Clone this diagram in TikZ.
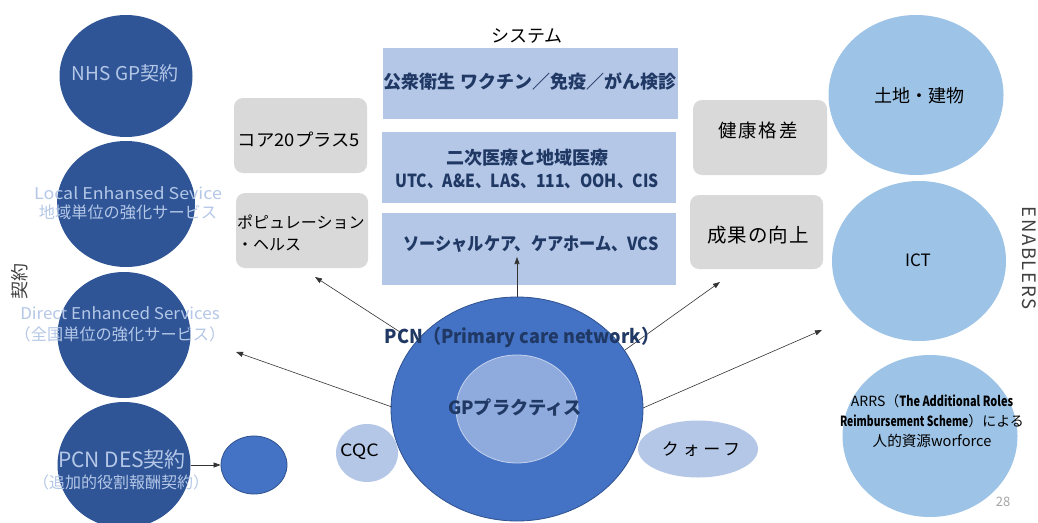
\documentclass[tikz,border=0pt]{standalone}
\usepackage{fontspec}
\usepackage{graphicx}
\setmainfont{Noto Sans CJK JP}
\usetikzlibrary{shapes.geometric,arrows.meta}
\definecolor{darkcirc}{HTML}{2F5597}
\definecolor{circtext}{HTML}{B4C7E7}
\definecolor{sysbox}{HTML}{B4C7E7}
\definecolor{systext}{HTML}{203864}
\definecolor{graybox}{HTML}{D9D9D9}
\definecolor{rightcirc}{HTML}{9DC3E6}
\definecolor{pcnblue}{HTML}{4472C4}
\definecolor{pcnedge}{HTML}{2F528F}
\definecolor{gpfill}{HTML}{8FAADC}
\definecolor{gpedge}{HTML}{C5D3EE}
\definecolor{pagegray}{HTML}{A6A6A6}
\newcommand\cnd[2][0.82]{\scalebox{#1}[1]{#2}}
\begin{document}
\begin{tikzpicture}[x=1pt,y=-1pt,
  circ/.style={ellipse, inner sep=0pt, draw=none},
  dcirc/.style={circ, fill=darkcirc},
  lcirc/.style={circ, fill=rightcirc},
  gbox/.style={rectangle, rounded corners=9pt, fill=graybox, inner sep=0pt},
  sbox/.style={rectangle, fill=sysbox, inner sep=0pt},
  ctext/.style={text=circtext, align=center, inner sep=0pt},
  btext/.style={text=black, align=center, inner sep=0pt},
  stext/.style={text=systext, align=center, inner sep=0pt, font=\bfseries\fontsize{18}{23}\selectfont},
  arr/.style={-{Triangle[length=7pt,width=5pt]}, draw=black!80, line width=0.6pt}]
\useasboundingbox (0,0) rectangle (1038,522);
\fill[white] (0,0) rectangle (1038,522);

% left contract circles
\node[dcirc,minimum width=133pt,minimum height=122pt] (nhs) at (126,76) {};
\node[dcirc,minimum width=138pt,minimum height=126pt] (les) at (126,204) {};
\node[dcirc,minimum width=133pt,minimum height=126pt] (des) at (124,335) {};
\node[dcirc,minimum width=133pt,minimum height=126pt] (pdes) at (124,465) {};
\node[circ,fill=pcnblue,draw=pcnedge,line width=0.8pt,minimum width=66pt,minimum height=58pt] (small) at (254,465) {};

\node[ctext,font=\fontsize{19}{23}\selectfont] (nhs-t) at (125,73) {NHS GP契約};
\node[ctext,font=\fontsize{16.2}{19}\selectfont] (les-t) at (128,203.5) {\cnd[1.1]{Local Enhansed Sevice}\\地域単位の強化サービス};
\node[ctext,font=\fontsize{16.2}{21}\selectfont] (des-t) at (120,324.5) {\cnd[1.05]{Direct Enhanced Services}\\（全国単位の強化サービス）};
\node[ctext,font=\fontsize{21}{24}\selectfont] (pdes-t1) at (122,460) {PCN DES契約};
\node[ctext,font=\fontsize{16}{18}\selectfont] (pdes-t2) at (121,482) {（追加的役割報酬契約）};
\node[text=black!75,rotate=90,inner sep=0pt,font=\fontsize{18}{22}\selectfont] (keiyaku) at (20,281) {契約};

% gray boxes
\node[gbox,minimum width=133pt,minimum height=75pt] (core) at (300.5,135.5) {};
\node[gbox,minimum width=132pt,minimum height=75pt] (pop) at (302,230.5) {};
\node[gbox,minimum width=134pt,minimum height=75pt] (kenko) at (760,137.5) {};
\node[gbox,minimum width=133pt,minimum height=74pt] (seika) at (756.5,232) {};
\node[btext,font=\fontsize{17.5}{20}\selectfont] (core-t) at (299,140) {\cnd[1.05]{コア20プラス5}};
\node[btext,align=left,anchor=west,font=\fontsize{16}{22}\selectfont] (pop-t) at (237,233) {ポピュレーション\\・ヘルス};
\node[btext,font=\fontsize{18.5}{22}\selectfont\addfontfeature{LetterSpace=10}] (kenko-t) at (758,130) {健康格差};
\node[btext,font=\fontsize{19.5}{22}\selectfont\addfontfeature{LetterSpace=5}] (seika-t) at (758,235) {成果の向上};

% system boxes
\node[btext,font=\fontsize{18}{22}\selectfont] (sys) at (527,36) {システム};
\node[sbox,minimum width=295pt,minimum height=71pt] (pub) at (530.5,83.5) {};
\node[sbox,minimum width=294pt,minimum height=71pt] (sec) at (529,167.5) {};
\node[sbox,minimum width=294pt,minimum height=72pt] (soc) at (529,249) {};
\node[stext] (pub-t) at (530,82) {公衆衛生 ワクチン／免疫／がん検診};
\node[stext] (sec-t1) at (527,158) {二次医療と地域医療};
\node[stext] (sec-t2) at (527,181) {\cnd[0.87]{UTC、A\&E、LAS、111、OOH、CIS}};
\node[stext] (soc-t) at (531,244) {\cnd[0.9]{ソーシャルケア、ケアホーム、VCS}};

% right enabler circles
\node[lcirc,minimum width=175pt,minimum height=160pt] (land) at (916,95) {};
\node[lcirc,minimum width=174pt,minimum height=160pt] (ict) at (919,261) {};
\node[lcirc,minimum width=175pt,minimum height=162pt] (arrs) at (930,436) {};
\node[btext,font=\fontsize{18}{22}\selectfont] (land-t) at (919.5,96) {土地・建物};
\node[btext,font=\fontsize{17}{22}\selectfont] (ict-t) at (918,260) {ICT};
\node[btext,font=\fontsize{14}{20}\selectfont] (arrs-t1) at (932,401) {ARRS（\cnd[0.78]{\bfseries The Additional Roles}};
\node[btext,font=\fontsize{14}{20}\selectfont] (arrs-t2) at (932,421) {\cnd[0.74]{\bfseries Reimbursement Scheme}）による};
\node[btext,font=\fontsize{14.6}{20}\selectfont] (arrs-t3) at (932,441) {人的資源worforce};
\node[text=black!75,rotate=-90,inner sep=0pt,font=\fontsize{18.5}{22}\selectfont\addfontfeature{LetterSpace=9}] (enablers) at (1029,258) {ENABLERS};
\node[text=pagegray,inner sep=0pt,font=\fontsize{13}{16}\selectfont] (page) at (1003,502) {28};

% PCN centre
\node[circ,fill=pcnblue,draw=pcnedge,line width=0.8pt,minimum width=252pt,minimum height=224pt] (pcn) at (517,409) {};
\node[circ,fill=gpfill,draw=gpedge,line width=0.8pt,minimum width=122pt,minimum height=108pt] (gp) at (517,409) {};
\node[circ,fill=sysbox,minimum width=62pt,minimum height=58pt] (cqc) at (367,453) {};
\node[circ,fill=sysbox,minimum width=120pt,minimum height=57pt] (qof) at (698,449) {};
\node[btext,font=\fontsize{17}{20}\selectfont] (cqc-t) at (359.5,452) {\cnd[1.15]{CQC}};
\node[btext,font=\fontsize{17}{20}\selectfont\addfontfeature{LetterSpace=22}] (qof-t) at (701,449) {クォーフ};

% connectors
\coordinate (a1s) at (400,332); \coordinate (a1e) at (315,277);
\coordinate (a2s) at (392,407); \coordinate (a2e) at (236,352);
\coordinate (a3s) at (517,297); \coordinate (a3e) at (517,257);
\coordinate (a4s) at (625,350); \coordinate (a4e) at (720,282);
\coordinate (a5s) at (643,408); \coordinate (a5e) at (822,330);
\draw[arr] (a1s) -- (a1e);
\draw[arr] (a2s) -- (a2e);
\draw[arr] (a3s) -- (a3e);
\draw[arr] (a4s) -- (a4e);
\draw[arr] (a5s) -- (a5e);
\draw[arr] (pdes.east) -- (small.west);

\node[stext,font=\bfseries\fontsize{19}{22}\selectfont] (pcn-t) at (522,337) {\cnd[0.95]{PCN（Primary care network）}};
\node[stext,font=\bfseries\fontsize{18.2}{22}\selectfont] (gp-t) at (515,407) {GPプラクティス};
\end{tikzpicture}
\end{document}
